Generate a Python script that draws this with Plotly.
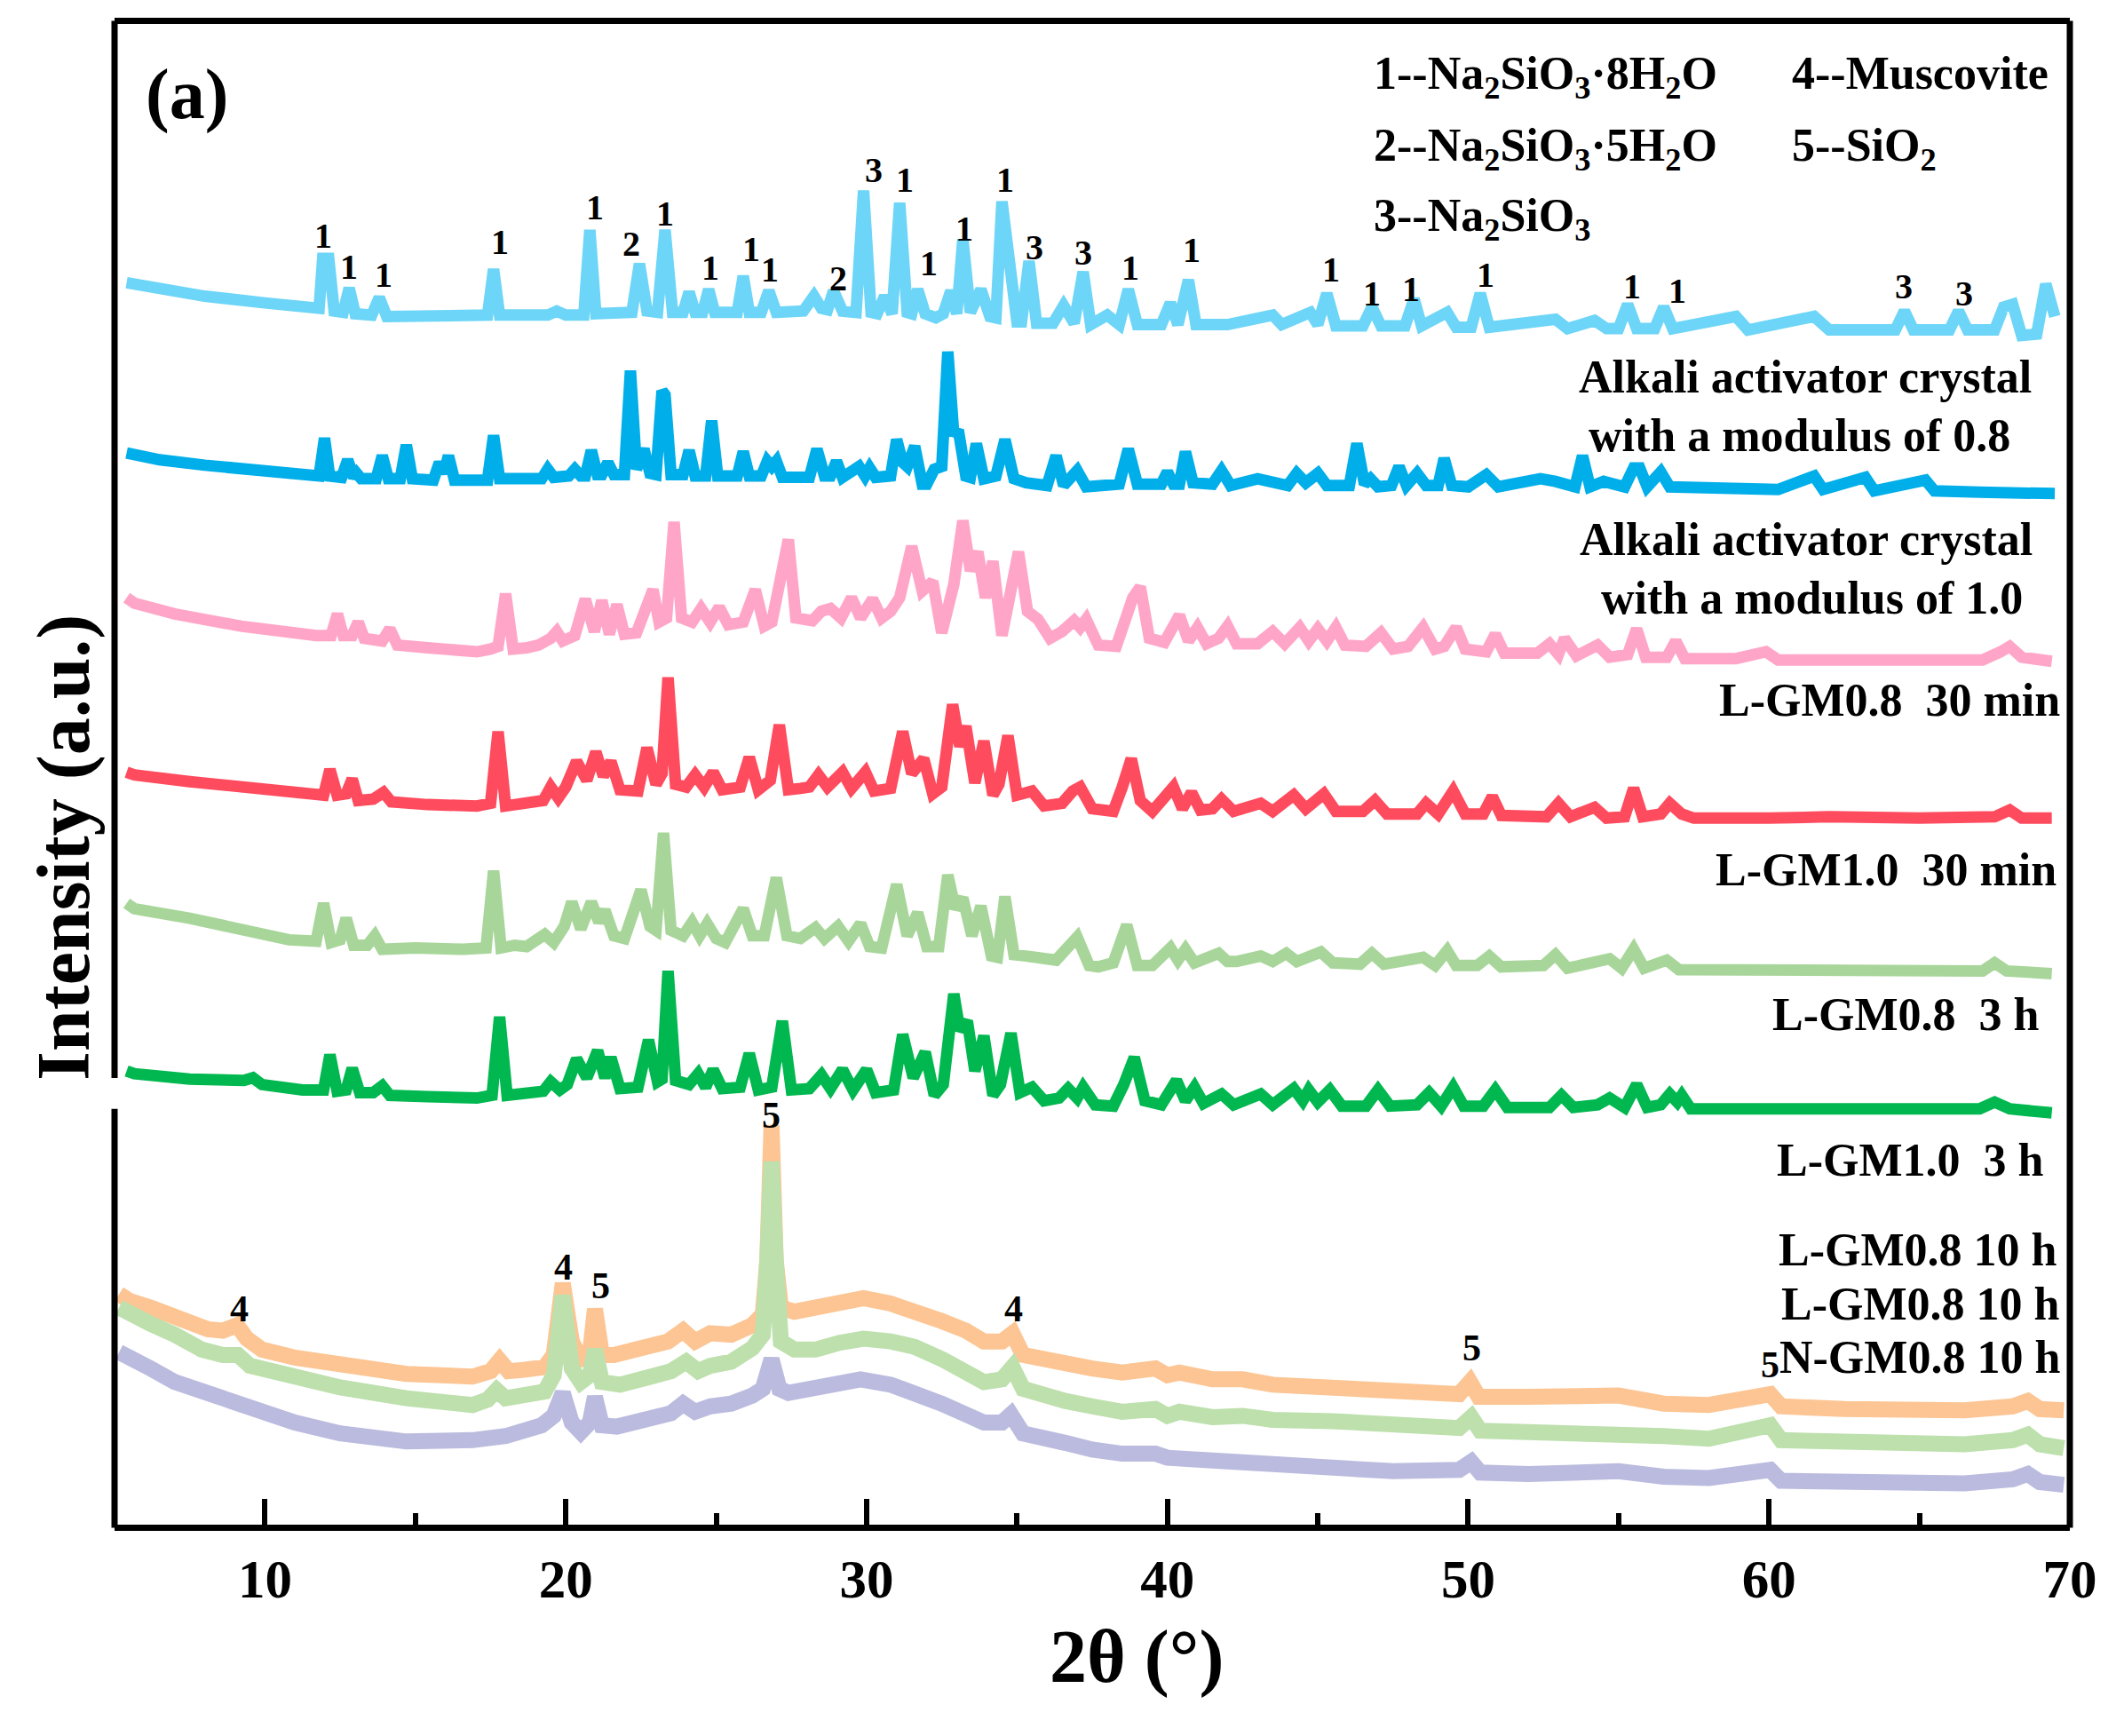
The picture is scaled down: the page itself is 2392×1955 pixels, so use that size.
import plotly.graph_objects as go

FONT = "Liberation Serif"

# ---------------- data: (2theta, intensity a.u.) ----------------
reference_pattern = [(5.4,919),(6.5,914),(8.0,909),(10.0,904),(11.6,900),(11.8,900),(11.92,937),(12.12,937),(12.3,898),(12.6,897),(12.8,915),(13.0,896),(13.55,895),(13.8,908),(14.05,894),(15.6,894),(17.4,895),(17.6,929),(17.8,895),(19.4,895),(19.7,898),(20.0,895),(20.6,895),(20.8,958),(21.0,896),(22.2,897),(22.45,933),(22.7,898),(23.05,897),(23.3,958),(23.55,897),(23.9,897),(24.1,912),(24.3,897),(24.55,897),(24.75,914),(24.95,897),(25.7,897),(25.9,924),(26.1,897),(26.5,897),(26.75,913),(27.0,897),(27.9,898),(28.25,909),(28.5,900),(28.7,899),(28.9,913),(29.2,898),(29.65,897),(29.9,987),(30.15,897),(30.35,896),(30.6,909),(30.85,896),(31.1,978),(31.35,897),(31.5,896),(31.7,914),(31.95,896),(32.3,893),(32.55,896),(32.8,913),(33.0,896),(33.2,951),(33.45,897),(33.8,914),(34.1,894),(34.3,893),(34.5,979),(34.8,921),(35.0,890),(35.15,890),(35.4,935),(35.65,889),(36.2,889),(36.55,902),(36.9,889),(37.2,927),(37.45,888),(38.0,895),(38.4,888),(38.7,914),(39.0,888),(39.8,888),(40.1,904),(40.35,888),(40.7,921),(40.95,888),(42.0,888),(43.5,895),(43.8,888),(44.75,897),(45.0,888),(45.3,911),(45.6,887),(46.5,887),(46.8,901),(47.1,887),(47.9,887),(48.2,907),(48.45,887),(49.3,897),(49.6,886),(50.1,886),(50.4,911),(50.7,886),(52.9,892),(53.3,885),(54.2,891),(54.6,885),(55.0,885),(55.3,903),(55.6,885),(56.2,885),(56.5,901),(56.8,885),(58.9,894),(59.3,884),(61.5,894),(62.0,884),(64.2,884),(64.5,898),(64.8,884),(66.0,884),(66.3,898),(66.6,884),(67.5,884),(67.8,901),(68.1,903),(68.4,880),(68.9,881),(69.2,918),(69.5,894)]

crystal_m08 = [(5.4,793),(6.5,788),(8.0,784),(10.0,779),(11.6,776),(11.8,776),(11.98,804),(12.15,776),(12.55,775),(12.75,788),(12.95,775),(13.05,778),(13.2,774),(13.7,774),(13.9,791),(14.1,774),(14.5,774),(14.7,799),(14.9,774),(15.6,773),(15.8,786),(15.95,778),(16.1,791),(16.3,773),(17.4,773),(17.6,806),(17.8,774),(19.2,774),(19.4,781),(19.6,775),(20.1,776),(20.3,781),(20.5,776),(20.65,776),(20.85,795),(21.05,777),(21.2,777),(21.4,786),(21.6,777),(21.95,777),(22.15,854),(22.35,781),(22.6,796),(22.8,778),(23.0,777),(23.2,839),(23.3,836),(23.5,777),(23.9,777),(24.1,795),(24.3,776),(24.65,776),(24.85,817),(25.05,776),(25.7,776),(25.9,794),(26.1,776),(26.5,776),(26.7,787),(26.85,783),(27.0,787),(27.2,775),(28.1,775),(28.35,796),(28.6,776),(28.8,776),(29.0,787),(29.2,775),(29.75,783),(29.95,776),(30.1,782),(30.3,775),(30.8,776),(31.0,803),(31.2,786),(31.35,783),(31.6,798),(31.85,770),(32.0,770),(32.25,781),(32.5,783),(32.7,868),(32.9,806),(33.05,810),(33.3,776),(33.45,775),(33.65,800),(33.9,774),(34.3,776),(34.6,803),(34.9,774),(35.3,771),(36.0,769),(36.3,791),(36.55,769),(37.0,780),(37.3,768),(38.4,770),(38.7,796),(39.0,770),(39.8,770),(40.0,779),(40.2,770),(40.4,770),(40.6,794),(40.85,771),(41.5,770),(41.8,780),(42.1,769),(43.0,774),(44.0,769),(44.3,778),(44.6,771),(45.0,778),(45.3,769),(46.05,769),(46.3,800),(46.55,770),(46.75,774),(47.0,768),(47.45,769),(47.7,783),(47.95,769),(48.3,778),(48.6,769),(49.0,769),(49.2,789),(49.45,769),(50.0,768),(50.6,777),(51.0,768),(52.4,774),(52.9,772),(53.55,768),(53.8,791),(54.05,768),(54.5,772),(55.2,768),(55.5,782),(55.7,782),(55.95,768),(56.4,779),(56.7,768),(58.0,767),(60.3,766),(61.5,776),(61.8,766),(63.2,775),(63.5,765),(65.2,773),(65.5,765),(67.0,764),(69.5,763)]

crystal_m10 = [(5.4,686),(5.66,682),(7.0,674),(9.2,665),(11.7,658),(12.2,658),(12.41,674),(12.6,658),(12.9,658),(13.1,668),(13.3,656),(13.9,654),(14.15,663),(14.4,651),(15.4,649),(17.05,646),(17.5,648),(17.75,650),(18.0,689),(18.25,648),(18.7,649),(19.1,651),(19.5,656),(19.7,661),(19.9,654),(20.3,658),(20.65,685),(20.95,661),(21.2,684),(21.45,659),(21.7,681),(21.95,659),(22.35,660),(22.9,692),(23.1,668),(23.35,671),(23.6,742),(23.85,671),(24.2,668),(24.5,678),(24.8,668),(25.1,679),(25.4,666),(25.9,668),(26.3,692),(26.6,665),(26.85,668),(27.2,706),(27.4,729),(27.65,671),(28.2,669),(28.5,676),(28.8,678),(29.15,671),(29.5,686),(29.8,671),(30.2,685),(30.5,671),(30.8,676),(31.1,686),(31.5,724),(31.85,691),(32.2,698),(32.5,660),(32.9,696),(33.2,743),(33.45,706),(33.7,720),(33.95,686),(34.2,713),(34.5,658),(34.75,686),(35.05,720),(35.35,676),(35.7,670),(36.1,656),(36.5,661),(36.9,669),(37.1,664),(37.3,670),(37.7,651),(38.3,650),(38.85,686),(39.1,694),(39.4,656),(39.9,653),(40.4,673),(40.7,654),(41.0,664),(41.3,652),(41.7,656),(42.0,665),(42.3,652),(43.0,652),(43.5,661),(43.9,652),(44.4,664),(44.7,654),(45.0,663),(45.3,654),(45.6,664),(45.9,651),(46.6,650),(47.1,660),(47.5,648),(48.0,650),(48.5,664),(48.9,648),(49.2,650),(49.6,664),(49.9,648),(50.6,646),(50.9,659),(51.2,645),(52.3,645),(52.7,652),(53.0,644),(53.2,656),(53.6,643),(54.3,651),(54.7,642),(55.3,644),(55.6,663),(55.9,642),(56.6,642),(56.9,654),(57.2,641),(58.9,641),(59.9,646),(60.3,640),(63.0,640),(67.1,640),(67.7,646),(68.0,650),(68.4,642),(69.0,641),(69.4,639)]

lgm08_30min = [(5.4,557),(5.66,555),(7.5,550),(9.2,546),(11.25,540),(11.95,540),(12.16,559),(12.4,540),(12.7,541),(12.9,552),(13.1,536),(13.6,537),(13.94,542),(14.2,535),(15.4,533),(17.05,532),(17.5,534),(17.75,587),(18.0,532),(18.7,534),(19.25,536),(19.5,546),(19.75,538),(20.0,546),(20.36,565),(20.7,551),(21.0,572),(21.25,554),(21.5,565),(21.8,544),(22.4,543),(22.7,575),(23.0,548),(23.2,556),(23.4,627),(23.65,548),(24.0,546),(24.3,555),(24.6,546),(24.9,557),(25.2,544),(25.8,546),(26.1,568),(26.4,544),(26.8,551),(27.1,592),(27.4,544),(27.8,545),(28.1,546),(28.4,555),(28.7,546),(29.2,557),(29.5,545),(29.96,557),(30.25,543),(30.8,545),(31.2,587),(31.5,556),(31.9,567),(32.2,541),(32.5,546),(32.86,607),(33.1,576),(33.3,591),(33.6,549),(33.9,580),(34.2,540),(34.4,548),(34.7,584),(35.0,540),(35.5,543),(35.9,532),(36.5,534),(36.85,543),(37.1,546),(37.5,530),(38.2,528),(38.5,546),(38.8,567),(39.1,536),(39.5,528),(40.2,546),(40.5,530),(40.8,542),(41.1,529),(41.5,530),(41.8,537),(42.2,528),(43.1,534),(43.5,528),(44.2,540),(44.6,530),(45.2,541),(45.6,528),(46.5,528),(46.9,536),(47.3,526),(48.3,526),(48.6,534),(49.0,526),(49.5,543),(49.9,526),(50.5,526),(50.8,539),(51.1,525),(52.6,524),(53.0,534),(53.4,524),(54.2,531),(54.6,523),(55.2,524),(55.5,545),(55.8,524),(56.4,526),(56.7,534),(57.1,526),(57.5,523),(60.0,523),(62.0,524),(65.0,523),(67.5,524),(68.0,529),(68.4,523),(69.4,523)]

lgm10_30min = [(5.4,460),(5.66,456),(7.5,449),(9.2,441),(10.8,433),(11.7,432),(11.95,460),(12.2,431),(12.5,433),(12.7,449),(12.95,429),(13.4,429),(13.65,436),(13.9,426),(15.0,427),(16.6,426),(17.35,427),(17.6,484),(17.85,427),(18.3,429),(18.7,428),(19.3,437),(19.6,431),(19.95,443),(20.2,461),(20.5,441),(20.85,461),(21.1,446),(21.3,455),(21.6,436),(21.95,434),(22.5,470),(22.8,443),(23.0,440),(23.25,512),(23.5,440),(23.9,436),(24.2,446),(24.45,436),(24.7,445),(25.0,434),(25.3,431),(25.9,456),(26.2,436),(26.6,436),(27.0,479),(27.35,436),(27.8,434),(28.3,442),(28.6,434),(29.05,443),(29.4,432),(29.8,445),(30.1,428),(30.5,427),(31.0,474),(31.35,436),(31.7,453),(32.0,428),(32.4,428),(32.7,481),(32.95,456),(33.2,464),(33.5,436),(33.8,458),(34.15,421),(34.35,420),(34.6,465),(34.9,422),(35.3,421),(35.7,420),(36.3,418),(37.0,435),(37.4,414),(37.7,413),(38.2,416),(38.65,444),(39.0,414),(39.5,414),(40.1,427),(40.35,418),(40.6,426),(40.9,416),(41.7,423),(42.0,417),(42.3,417),(43.1,421),(43.5,417),(43.95,423),(44.3,417),(45.1,424),(45.5,416),(46.4,415),(46.8,423),(47.2,415),(48.5,420),(48.9,414),(49.3,425),(49.6,414),(50.3,414),(50.7,421),(51.1,413),(52.5,414),(52.9,422),(53.3,412),(54.7,419),(55.1,412),(55.5,426),(55.85,412),(56.6,418),(57.0,411),(58.9,411),(62.0,410),(65.0,410),(67.1,410),(67.5,416),(67.9,410),(69.4,408)]

lgm08_3h = [(5.4,336),(5.66,334),(7.5,330),(9.3,329),(9.6,331),(9.9,326),(11.25,322),(11.95,322),(12.16,348),(12.4,321),(12.7,322),(12.9,338),(13.15,320),(13.6,320),(13.9,325),(14.15,318),(15.4,317),(17.05,316),(17.55,318),(17.8,376),(18.05,318),(18.7,319),(19.25,321),(19.5,328),(19.8,322),(20.05,326),(20.36,345),(20.7,331),(21.06,351),(21.3,331),(21.5,346),(21.8,323),(22.4,324),(22.75,359),(23.05,328),(23.2,330),(23.4,410),(23.65,329),(24.1,326),(24.4,334),(24.65,324),(24.9,337),(25.2,323),(25.8,324),(26.1,349),(26.4,322),(26.85,324),(27.2,373),(27.5,322),(28.1,323),(28.5,333),(28.8,323),(29.2,337),(29.55,322),(30.0,337),(30.3,320),(30.9,322),(31.2,363),(31.55,331),(31.95,350),(32.25,318),(32.55,326),(32.9,393),(33.1,366),(33.35,373),(33.6,336),(33.9,362),(34.2,318),(34.45,326),(34.8,364),(35.1,320),(35.5,324),(35.9,314),(36.4,316),(36.7,323),(37.0,316),(37.2,324),(37.6,311),(38.2,310),(38.55,326),(38.9,346),(39.25,314),(39.8,311),(40.3,329),(40.6,314),(40.9,324),(41.2,312),(41.8,319),(42.2,311),(43.1,319),(43.5,311),(44.2,323),(44.5,314),(44.7,322),(45.0,313),(45.4,322),(45.8,310),(46.6,310),(47.0,322),(47.4,310),(48.3,311),(48.7,320),(49.1,310),(49.5,324),(49.85,310),(50.5,310),(50.9,322),(51.3,309),(52.7,309),(53.1,318),(53.5,309),(54.3,311),(54.7,316),(55.2,309),(55.6,326),(55.95,309),(56.4,311),(56.7,319),(56.95,313),(57.1,318),(57.4,308),(60.0,308),(63.0,308),(67.0,308),(67.5,313),(68.0,308),(69.4,305)]

lgm08_10h_a = [(5.15,171),(5.5,166),(6.2,161),(7.3,151),(8.1,145),(8.6,144),(9.07,148),(9.4,138),(9.9,130),(11.0,124),(12.5,118),(14.7,112),(16.9,110),(17.5,114),(17.8,122),(18.1,114),(18.6,115),(19.3,117),(19.6,126),(19.9,179),(20.2,136),(20.5,123),(20.8,126),(20.97,160),(21.2,126),(21.6,126),(22.5,131),(23.4,136),(23.9,144),(24.3,136),(24.8,142),(25.5,141),(26.2,148),(26.55,156),(26.7,196),(26.84,296),(26.98,196),(27.15,161),(27.6,158),(28.3,161),(29.1,164),(29.9,168),(30.8,164),(31.7,158),(32.5,151),(33.3,144),(33.9,136),(34.5,136),(34.85,142),(35.2,126),(35.8,123),(36.6,121),(37.5,116),(38.5,113),(39.6,116),(40.0,111),(40.4,113),(41.5,108),(42.5,108),(43.5,104),(45.5,101),(47.5,99),(49.7,97),(50.06,106),(50.35,95),(52.0,95),(55.0,96),(56.5,90),(58.0,89),(60.04,97),(60.4,88),(62.5,86),(64.7,85),(66.5,85),(68.1,88),(68.6,92),(69.0,86),(69.8,85)]

lgm08_10h_b = [(5.15,161),(5.5,156),(6.2,149),(7.0,141),(7.9,130),(8.6,126),(9.1,126),(9.5,118),(9.9,116),(11.0,109),(12.5,102),(14.7,94),(16.9,89),(17.4,93),(17.7,100),(18.0,94),(18.7,96),(19.3,99),(19.6,111),(19.9,170),(20.2,116),(20.5,106),(20.8,111),(20.97,130),(21.2,106),(21.8,104),(22.5,108),(23.5,114),(24.0,121),(24.4,114),(24.8,118),(25.5,121),(26.2,131),(26.55,141),(26.7,196),(26.84,269),(26.98,196),(27.15,136),(27.6,130),(28.3,130),(29.1,135),(29.9,138),(30.8,136),(31.6,132),(32.5,123),(33.3,114),(33.9,106),(34.5,108),(34.85,117),(35.2,101),(35.8,96),(36.6,92),(37.5,88),(38.5,84),(39.6,86),(40.0,81),(40.4,84),(41.5,80),(42.5,81),(43.5,78),(45.5,77),(47.5,74),(49.7,72),(50.1,80),(50.4,70),(52.0,69),(55.0,68),(56.5,66),(58.0,64),(60.04,74),(60.4,63),(62.5,61),(64.7,60),(66.5,60),(68.1,63),(68.6,67),(69.0,60),(69.8,57)]

ngm08_10h = [(5.15,128),(5.5,123),(6.2,116),(7.0,106),(7.9,99),(8.8,91),(9.9,84),(11.0,76),(12.5,68),(14.7,62),(16.9,63),(18.0,66),(19.2,74),(19.6,81),(19.9,98),(20.2,76),(20.5,69),(20.8,76),(20.97,95),(21.2,74),(21.7,73),(22.5,78),(23.5,83),(23.9,90),(24.3,84),(24.8,88),(25.5,90),(26.2,96),(26.55,101),(26.84,123),(27.1,101),(27.4,98),(28.3,101),(29.1,106),(29.8,108),(30.8,104),(31.7,98),(32.5,90),(33.3,82),(33.9,76),(34.5,76),(34.8,82),(35.2,68),(35.8,64),(36.6,61),(37.5,56),(38.5,53),(39.6,53),(40.0,50),(41.5,48),(43.5,45),(45.5,42),(47.5,40),(49.7,41),(50.1,47),(50.4,39),(52.0,38),(55.0,40),(56.5,36),(58.0,35),(60.04,41),(60.4,33),(62.5,32),(64.7,31),(66.5,31),(68.1,34),(68.6,38),(69.0,32),(69.8,30)]

# peak markers: (label, 2theta, intensity position)
upper_peak_labels = [("1",11.94,954),("1",12.80,931),("1",13.95,925),("1",17.82,949),("1",20.97,975),("2",22.18,948),("1",23.31,970),("1",24.82,930),("1",26.17,944),("1",26.77,929),("2",29.07,922),("3",30.23,1002),("1",31.28,995),("1",32.08,933),("1",33.24,959),("1",34.62,995),("3",35.59,945),("3",37.19,941),("1",38.77,930),("1",40.80,943),("1",45.43,929),("1",46.81,911),("1",48.10,914),("1",50.58,925),("1",55.44,916),("1",56.96,913),("3",64.47,916),("3",66.48,911)]
lower_peak_labels = [("4",9.16,160),("4",19.91,191),("5",21.15,177),("5",26.84,303),("4",34.90,160),("5",50.13,131),("5",60.05,119)]

# phase key: (text, 2theta, intensity position)
phase_key = [("1--Na<sub>2</sub>SiO<sub>3</sub>·8H<sub>2</sub>O",46.79,1071),
             ("2--Na<sub>2</sub>SiO<sub>3</sub>·5H<sub>2</sub>O",46.79,1018),
             ("3--Na<sub>2</sub>SiO<sub>3</sub>",46.79,966),
             ("4--Muscovite",60.70,1074),
             ("5--SiO<sub>2</sub>",60.70,1018)]

# sample names: (text, 2theta, intensity position, anchor)
sample_labels = [("Alkali activator crystal",61.2,849,"center"),
                 ("with a modulus of 0.8",61.0,806,"center"),
                 ("Alkali activator crystal",61.24,729,"center"),
                 ("with a modulus of 1.0",61.42,686,"center"),
                 ("L-GM0.8  30 min",69.73,610,"right"),
                 ("L-GM1.0  30 min",69.61,485,"right"),
                 ("L-GM0.8  3 h",69.06,378,"right"),
                 ("L-GM1.0  3 h",69.2,270,"right"),
                 ("L-GM0.8 10 h",69.65,204,"right"),
                 ("L-GM0.8 10 h",69.73,164,"right"),
                 ("N-GM0.8 10 h",69.73,124,"right")]

x_tick_values = [10, 20, 30, 40, 50, 60, 70]
x_tick_labels = ["10", "20", "30", "40", "50", "60", "70"]
x_minor_values = [15, 25, 35, 45, 55, 65]

series = [
    ("Reference pattern", reference_pattern, "#6DD5F7", 13),
    ("Crystal, modulus 0.8", crystal_m08, "#00AEEA", 13),
    ("Crystal, modulus 1.0", crystal_m10, "#FFA6C8", 13),
    ("L-GM0.8 30 min", lgm08_30min, "#FF4B5E", 13),
    ("L-GM1.0 30 min", lgm10_30min, "#A8D69A", 13),
    ("L-GM0.8 3 h", lgm08_3h, "#00B84F", 13),
    ("L-GM0.8 10 h (a)", lgm08_10h_a, "#FCC593", 18),
    ("L-GM0.8 10 h (b)", lgm08_10h_b, "#BDE0AD", 18),
    ("N-GM0.8 10 h", ngm08_10h, "#BABBDE", 18),
]

fig = go.Figure()
for name, pts, color, width in series:
    fig.add_trace(go.Scatter(
        x=[p[0] for p in pts], y=[p[1] for p in pts], mode="lines", name=name,
        line=dict(color=color, width=width), showlegend=False, hoverinfo="skip"))

annotations = []
for txt, x, y in upper_peak_labels:
    annotations.append(dict(text=txt, x=x, y=y, xref="x", yref="y", showarrow=False,
                            xanchor="center", yanchor="middle",
                            font=dict(family=FONT, size=40, color="black", weight="bold")))
for txt, x, y in lower_peak_labels:
    annotations.append(dict(text=txt, x=x, y=y, xref="x", yref="y", showarrow=False,
                            xanchor="center", yanchor="middle",
                            font=dict(family=FONT, size=42, color="black", weight="bold")))
for txt, x, y in phase_key:
    annotations.append(dict(text=txt, x=x, y=y, xref="x", yref="y", showarrow=False,
                            xanchor="left", yanchor="middle",
                            font=dict(family=FONT, size=52, color="black", weight="bold")))
for txt, x, y, anc in sample_labels:
    annotations.append(dict(text=txt, x=x, y=y, xref="x", yref="y", showarrow=False,
                            xanchor=anc, yanchor="middle",
                            font=dict(family=FONT, size=52, color="black", weight="bold")))
annotations.append(dict(text="(a)", x=7.42, y=1058, xref="x", yref="y", showarrow=False,
                        xanchor="center", yanchor="middle",
                        font=dict(family=FONT, size=80, color="black", weight="bold")))
annotations.append(dict(text="2θ (°)", x=0.5228, y=-0.088, xref="paper", yref="paper", showarrow=False,
                        xanchor="center", yanchor="middle",
                        font=dict(family=FONT, size=84, color="black", weight="bold")))
annotations.append(dict(text="Intensity (a.u.)", x=-0.0257, y=0.4513, xref="paper", yref="paper",
                        showarrow=False, textangle=-90, xanchor="center", yanchor="middle",
                        font=dict(family=FONT, size=84, color="black", weight="bold")))

frame = dict(color="black", width=7)
shapes = [
    dict(type="line", xref="paper", yref="paper", x0=0, x1=0, y0=0.2977, y1=1.002, line=frame, layer="above"),
    dict(type="line", xref="paper", yref="paper", x0=0, x1=0, y0=-0.002, y1=0.277, line=frame, layer="above"),
    dict(type="line", xref="paper", yref="paper", x0=1, x1=1, y0=-0.002, y1=1.002, line=frame, layer="above"),
]

# the page body adds an 8 px offset, so the figure is 8 px smaller and shifted margins compensate
fig.update_layout(
    width=2384, height=1947,
    margin=dict(l=121, r=61, t=16, b=238),
    paper_bgcolor="white", plot_bgcolor="white",
    showlegend=False,
    font=dict(family=FONT, color="black"),
    annotations=annotations, shapes=shapes,
)
fig.update_xaxes(
    range=[5, 70], tickmode="array", tickvals=x_tick_values, ticktext=x_tick_labels,
    ticks="inside", ticklen=29, tickwidth=6, tickcolor="black",
    showline=True, linecolor="black", linewidth=7, mirror=True,
    showgrid=False, zeroline=False,
    tickfont=dict(family=FONT, size=61, color="black", weight="bold"),
    ticklabelstandoff=2,
    minor=dict(tickmode="array", tickvals=x_minor_values, ticks="inside", ticklen=13,
               tickwidth=6, tickcolor="black", showgrid=False),
)
fig.update_yaxes(range=[0.5, 1110.3], showticklabels=False, ticks="", showgrid=False,
                 zeroline=False, showline=False)

fig.write_html("out.html")
